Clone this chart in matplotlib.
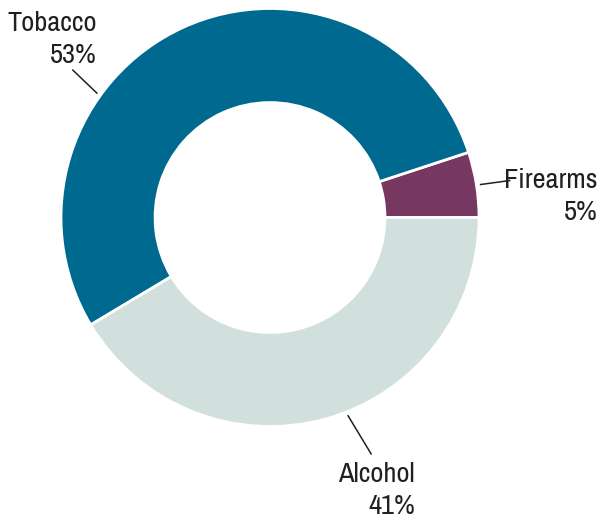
import numpy as np
import matplotlib as mpl
import matplotlib.pyplot as plt

mpl.use('Agg')
plt.rcParams['font.family'] = ['Archivo Narrow', 'Roboto Condensed', 'DejaVu Sans']

# data (counter-clockwise from 3 o'clock)
categories = ['Firearms', 'Tobacco', 'Alcohol']
shares = [5, 53, 41]
colors = ['#763761', '#00698f', '#d1e0dc']

# label layout: leader angle (deg), leader end offset, text anchor (right edge, baseline)
leader_angle = [8.9, 144.3, -68.5]
leader_end = [(0.139, 0.019), (-0.115, 0.110), (0.110, -0.182)]
text_pos = [(1.569, 0.141), (-0.828, 0.892), (0.694, -1.266)]
line_gap = 0.153

fig = plt.figure(figsize=(6.08, 5.17), dpi=100)
ax = fig.add_axes([0, 0, 1, 1])

ax.pie(shares, colors=colors, startangle=0, counterclock=True,
       radius=1.0, wedgeprops=dict(width=0.45, edgecolor='white', linewidth=2))

for name, val, ang, end, pos in zip(categories, shares, leader_angle, leader_end, text_pos):
    a = np.deg2rad(ang)
    x0, y0 = 1.02 * np.cos(a), 1.02 * np.sin(a)
    ax.plot([x0, x0 + end[0]], [y0, y0 + end[1]], color='#231f20', lw=1.1)
    ax.text(pos[0], pos[1], name, ha='right', va='baseline', fontsize=20.5, color='#231f20')
    ax.text(pos[0], pos[1] - line_gap, f'{val}%', ha='right', va='baseline', fontsize=20.5, color='#231f20')

ax.set_xlim(-270 / 209, 338 / 209)
ax.set_ylim(-(517 - 217.5) / 209, 217.5 / 209)
ax.set_aspect('equal')
ax.axis('off')

fig.savefig('out.png', dpi=100)
